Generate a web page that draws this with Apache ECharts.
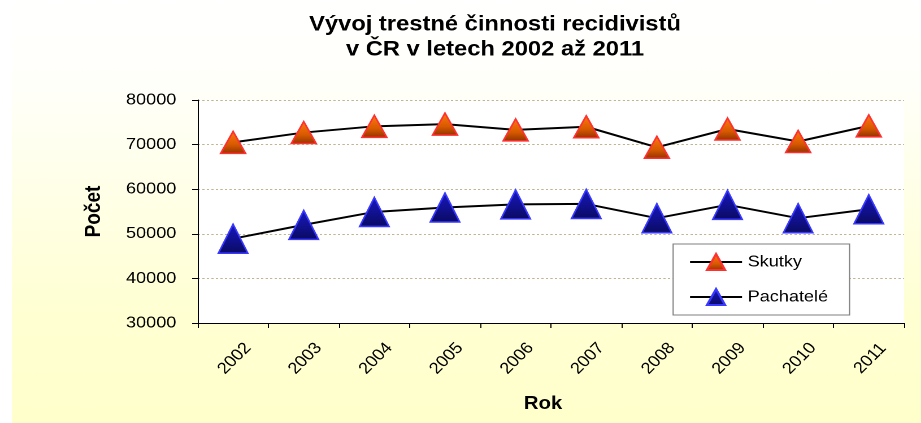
<!DOCTYPE html>
<html>
<head>
<meta charset="utf-8">
<script src="https://cdn.jsdelivr.net/npm/echarts@6/dist/echarts.min.js"></script>
<style>
  html, body { margin: 0; padding: 0; background: #fff; overflow: hidden; }
  /* the original picture is stretched sideways, so draw narrower and stretch */
  #chart { width: 815px; height: 423px; transform: scaleX(1.1301); transform-origin: 0 0; }
</style>
</head>
<body>
<div id="chart"></div>
<script>
// roky a hodnoty
var years = ['2002', '2003', '2004', '2005', '2006', '2007', '2008', '2009', '2010', '2011']
var skutky = [70500, 72700, 74100, 74600, 73300, 74000, 69400, 73500, 70700, 74200]
var pachatele = [48900, 52000, 54900, 55900, 56600, 56700, 53500, 56500, 53500, 55500]
var yTicks = [30000, 40000, 50000, 60000, 70000, 80000]

var font = 'Arial, "Liberation Sans", sans-serif'
var chart = echarts.init(document.getElementById('chart'), null, { devicePixelRatio: 2 })

chart.setOption({
  animation: false,
  backgroundColor: '#fff',
  graphic: [{
    type: 'rect',
    z: -10,
    shape: { x: 10.6, y: 0, width: 810, height: 423 },
    style: {
      fill: {
        type: 'linear', x: 0, y: 0, x2: 0, y2: 1,
        colorStops: [
          { offset: 0, color: '#ffffff' },
          { offset: 0.2, color: '#fffffa' },
          { offset: 0.75, color: '#ffffd2' },
          { offset: 1, color: '#ffffcc' }
        ]
      }
    }
  }],
  title: {
    text: 'Vývoj trestné činnosti recidivistů\nv ČR v letech 2002 až 2011',
    left: 433,
    top: 7,
    textAlign: 'center',
    textStyle: { fontFamily: font, fontSize: 21, fontWeight: 'bold', color: '#000', lineHeight: 25 }
  },
  legend: {
    orient: 'vertical',
    left: 595.6,
    top: 244,
    padding: [9, 19, 9, 14],
    itemGap: 17,
    itemWidth: 46,
    itemHeight: 20,
    backgroundColor: '#fff',
    borderColor: '#808080',
    borderWidth: 1,
    textStyle: { fontFamily: font, fontSize: 16, color: '#000' },
    data: ['Skutky', 'Pachatelé']
  },
  grid: { left: 175, right: 15, top: 100, bottom: 100, show: true, backgroundColor: '#fff', borderWidth: 0 },
  xAxis: {
    type: 'category',
    data: years,
    name: 'Rok',
    nameLocation: 'middle',
    nameGap: 72,
    nameTextStyle: { fontFamily: font, fontSize: 18, fontWeight: 'bold', color: '#000', padding: [0, 14, 0, 0] },
    axisLine: { lineStyle: { color: '#000', width: 1 } },
    axisTick: { show: true, alignWithLabel: false, length: 5, lineStyle: { color: '#000' } },
    axisLabel: {
      rotate: 48, margin: 37, align: 'center', verticalAlign: 'middle',
      fontFamily: font, fontSize: 16, color: '#000', padding: [13, 0, 0, 4]
    }
  },
  yAxis: {
    type: 'value',
    min: yTicks[0],
    max: yTicks[yTicks.length - 1],
    interval: 10000,
    name: 'Počet',
    nameLocation: 'middle',
    nameGap: 82,
    nameTextStyle: { fontFamily: font, fontSize: 19, fontWeight: 'bold', color: '#000' },
    axisLine: { show: true, lineStyle: { color: '#000', width: 1 } },
    axisTick: { show: true, length: 5, lineStyle: { color: '#000' } },
    axisLabel: {
      margin: 19, fontFamily: font, fontSize: 16, color: '#000',
      formatter: function (v) { return String(v) }
    },
    splitLine: { lineStyle: { color: '#c2b592', type: [2, 2], width: 1 } }
  },
  series: [{
    name: 'Skutky',
    type: 'line',
    data: skutky,
    symbol: 'triangle',
    symbolSize: [22, 22],
    lineStyle: { color: '#000', width: 2 },
    itemStyle: {
      color: {
        type: 'linear', x: 0, y: 0, x2: 0, y2: 1,
        colorStops: [{ offset: 0, color: '#ff7a10' }, { offset: 0.6, color: '#d85a00' }, { offset: 1, color: '#903000' }]
      },
      borderColor: '#ff3030',
      borderWidth: 1.5
    },
    z: 3
  }, {
    name: 'Pachatelé',
    type: 'line',
    data: pachatele,
    symbol: 'triangle',
    symbolSize: [26, 29],
    lineStyle: { color: '#000', width: 2 },
    itemStyle: {
      color: {
        type: 'linear', x: 0, y: 0, x2: 0, y2: 1,
        colorStops: [{ offset: 0, color: '#1818c0' }, { offset: 0.6, color: '#10108a' }, { offset: 1, color: '#0a0a60' }]
      },
      borderColor: '#3838ff',
      borderWidth: 1.5
    },
    z: 2
  }]
})
</script>
</body>
</html>
